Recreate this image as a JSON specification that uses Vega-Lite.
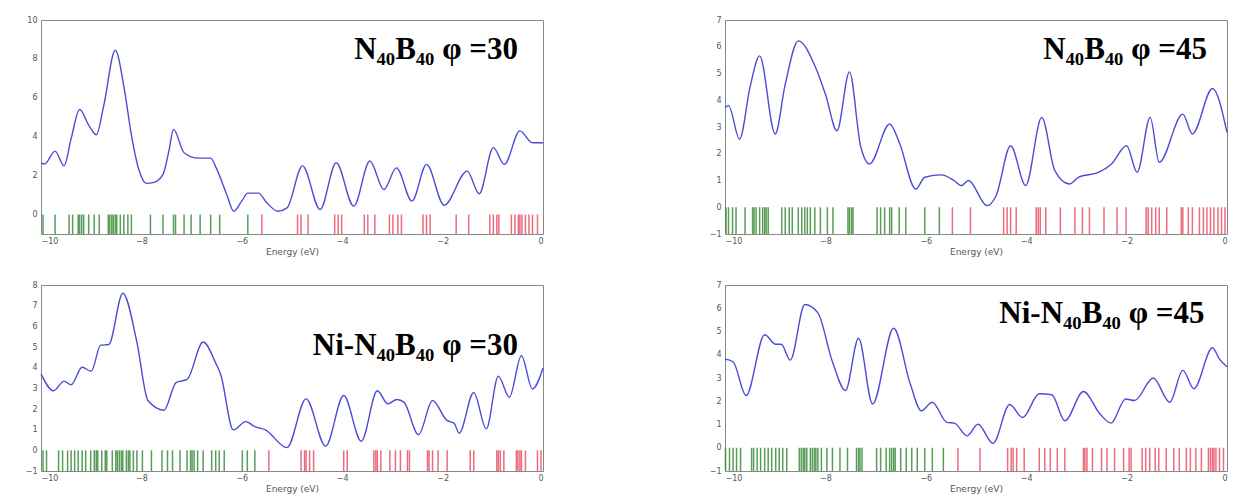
{
  "$schema": "https://vega.github.io/schema/vega-lite/v6.json",
  "background": "white",
  "padding": {"left": 24, "top": 15, "right": 0, "bottom": 0},
  "datasets": {
    "dos": [
      {"panel":"a","E":-10,"v":2.66},{"panel":"a","E":-9.93,"v":2.6},{"panel":"a","E":-9.72,"v":3.26},{"panel":"a","E":-9.54,"v":2.5},{"panel":"a","E":-9.4,"v":3.9},{"panel":"a","E":-9.23,"v":5.4},{"panel":"a","E":-9.05,"v":4.6},{"panel":"a","E":-8.9,"v":4.1},{"panel":"a","E":-8.75,"v":5.6},{"panel":"a","E":-8.52,"v":8.45},{"panel":"a","E":-8.35,"v":6.6},{"panel":"a","E":-8.2,"v":4.1},{"panel":"a","E":-8.05,"v":2.3},{"panel":"a","E":-7.9,"v":1.6},{"panel":"a","E":-7.75,"v":1.65},{"panel":"a","E":-7.57,"v":2.06},{"panel":"a","E":-7.45,"v":3.3},{"panel":"a","E":-7.36,"v":4.38},{"panel":"a","E":-7.15,"v":3.18},{"panel":"a","E":-6.87,"v":2.9},{"panel":"a","E":-6.62,"v":2.9},{"panel":"a","E":-6.51,"v":2.4},{"panel":"a","E":-6.3,"v":1.03},{"panel":"a","E":-6.16,"v":0.17},{"panel":"a","E":-6.0,"v":0.7},{"panel":"a","E":-5.88,"v":1.1},{"panel":"a","E":-5.67,"v":1.1},{"panel":"a","E":-5.5,"v":0.6},{"panel":"a","E":-5.28,"v":0.17},{"panel":"a","E":-5.1,"v":0.34},{"panel":"a","E":-4.79,"v":2.5},{"panel":"a","E":-4.44,"v":0.26},{"panel":"a","E":-4.12,"v":2.66},{"panel":"a","E":-3.77,"v":0.43},{"panel":"a","E":-3.45,"v":2.75},{"panel":"a","E":-3.17,"v":1.29},{"panel":"a","E":-2.92,"v":2.4},{"panel":"a","E":-2.61,"v":0.69},{"panel":"a","E":-2.32,"v":2.58},{"panel":"a","E":-1.97,"v":0.48},{"panel":"a","E":-1.51,"v":2.23},{"panel":"a","E":-1.27,"v":1.07},{"panel":"a","E":-0.99,"v":3.44},{"panel":"a","E":-0.77,"v":2.58},{"panel":"a","E":-0.46,"v":4.3},{"panel":"a","E":-0.21,"v":3.69},{"panel":"a","E":0,"v":3.69},
      {"panel":"b","E":-10,"v":3.73},{"panel":"b","E":-9.93,"v":3.8},{"panel":"b","E":-9.71,"v":2.55},{"panel":"b","E":-9.5,"v":4.5},{"panel":"b","E":-9.31,"v":5.66},{"panel":"b","E":-9.0,"v":2.74},{"panel":"b","E":-8.8,"v":4.6},{"panel":"b","E":-8.54,"v":6.22},{"panel":"b","E":-8.21,"v":5.29},{"panel":"b","E":-7.99,"v":4.17},{"panel":"b","E":-7.77,"v":2.86},{"panel":"b","E":-7.52,"v":5.06},{"panel":"b","E":-7.3,"v":2.3},{"panel":"b","E":-7.12,"v":1.62},{"panel":"b","E":-6.72,"v":3.11},{"panel":"b","E":-6.53,"v":2.43},{"panel":"b","E":-6.2,"v":0.68},{"panel":"b","E":-6.02,"v":1.12},{"panel":"b","E":-5.69,"v":1.21},{"panel":"b","E":-5.44,"v":1.0},{"panel":"b","E":-5.29,"v":0.81},{"panel":"b","E":-5.15,"v":1.0},{"panel":"b","E":-4.78,"v":0.06},{"panel":"b","E":-4.6,"v":0.43},{"panel":"b","E":-4.31,"v":2.3},{"panel":"b","E":-4.01,"v":0.81},{"panel":"b","E":-3.69,"v":3.36},{"panel":"b","E":-3.43,"v":1.37},{"panel":"b","E":-3.14,"v":0.87},{"panel":"b","E":-2.96,"v":1.12},{"panel":"b","E":-2.55,"v":1.31},{"panel":"b","E":-2.3,"v":1.62},{"panel":"b","E":-2.0,"v":2.3},{"panel":"b","E":-1.79,"v":1.31},{"panel":"b","E":-1.53,"v":3.36},{"panel":"b","E":-1.35,"v":1.68},{"panel":"b","E":-0.88,"v":3.48},{"panel":"b","E":-0.69,"v":2.74},{"panel":"b","E":-0.29,"v":4.44},{"panel":"b","E":0,"v":2.8},
      {"panel":"c","E":-10,"v":3.7},{"panel":"c","E":-9.75,"v":2.88},{"panel":"c","E":-9.54,"v":3.35},{"panel":"c","E":-9.4,"v":3.17},{"panel":"c","E":-9.18,"v":4.02},{"panel":"c","E":-9.0,"v":3.83},{"panel":"c","E":-8.81,"v":5.09},{"panel":"c","E":-8.65,"v":5.12},{"panel":"c","E":-8.37,"v":7.6},{"panel":"c","E":-8.09,"v":5.24},{"panel":"c","E":-7.87,"v":2.41},{"panel":"c","E":-7.55,"v":1.94},{"panel":"c","E":-7.31,"v":3.28},{"panel":"c","E":-7.09,"v":3.43},{"panel":"c","E":-6.77,"v":5.24},{"panel":"c","E":-6.52,"v":4.22},{"panel":"c","E":-6.42,"v":3.67},{"panel":"c","E":-6.17,"v":0.99},{"panel":"c","E":-5.92,"v":1.39},{"panel":"c","E":-5.74,"v":1.15},{"panel":"c","E":-5.53,"v":0.99},{"panel":"c","E":-5.1,"v":0.13},{"panel":"c","E":-4.72,"v":2.49},{"panel":"c","E":-4.33,"v":0.2},{"panel":"c","E":-3.97,"v":2.65},{"panel":"c","E":-3.62,"v":0.44},{"panel":"c","E":-3.3,"v":2.88},{"panel":"c","E":-3.09,"v":2.25},{"panel":"c","E":-2.91,"v":2.46},{"panel":"c","E":-2.77,"v":2.33},{"panel":"c","E":-2.48,"v":0.76},{"panel":"c","E":-2.2,"v":2.41},{"panel":"c","E":-1.92,"v":1.46},{"panel":"c","E":-1.77,"v":1.31},{"panel":"c","E":-1.67,"v":0.83},{"panel":"c","E":-1.38,"v":2.8},{"panel":"c","E":-1.13,"v":1.04},{"panel":"c","E":-0.89,"v":3.59},{"panel":"c","E":-0.67,"v":2.57},{"panel":"c","E":-0.43,"v":4.58},{"panel":"c","E":-0.21,"v":2.96},{"panel":"c","E":0,"v":3.98},
      {"panel":"d","E":-10,"v":3.81},{"panel":"d","E":-9.84,"v":3.7},{"panel":"d","E":-9.58,"v":2.25},{"panel":"d","E":-9.21,"v":4.86},{"panel":"d","E":-8.99,"v":4.45},{"panel":"d","E":-8.88,"v":4.45},{"panel":"d","E":-8.7,"v":3.77},{"panel":"d","E":-8.41,"v":6.16},{"panel":"d","E":-8.15,"v":5.8},{"panel":"d","E":-7.86,"v":3.7},{"panel":"d","E":-7.6,"v":2.46},{"panel":"d","E":-7.34,"v":4.71},{"panel":"d","E":-7.06,"v":1.88},{"panel":"d","E":-6.64,"v":5.14},{"panel":"d","E":-6.31,"v":2.75},{"panel":"d","E":-6.09,"v":1.59},{"panel":"d","E":-5.87,"v":1.96},{"panel":"d","E":-5.58,"v":1.09},{"panel":"d","E":-5.43,"v":1.06},{"panel":"d","E":-5.18,"v":0.51},{"panel":"d","E":-4.96,"v":1.01},{"panel":"d","E":-4.66,"v":0.19},{"panel":"d","E":-4.33,"v":1.86},{"panel":"d","E":-4.07,"v":1.3},{"panel":"d","E":-3.74,"v":2.32},{"panel":"d","E":-3.49,"v":2.28},{"panel":"d","E":-3.23,"v":1.16},{"panel":"d","E":-2.86,"v":2.42},{"panel":"d","E":-2.53,"v":1.45},{"panel":"d","E":-2.31,"v":1.06},{"panel":"d","E":-2.02,"v":2.1},{"panel":"d","E":-1.84,"v":2.03},{"panel":"d","E":-1.47,"v":3.0},{"panel":"d","E":-1.14,"v":1.96},{"panel":"d","E":-0.88,"v":3.33},{"panel":"d","E":-0.66,"v":2.54},{"panel":"d","E":-0.29,"v":4.3},{"panel":"d","E":-0.15,"v":3.81},{"panel":"d","E":0,"v":3.48}
    ],
    "levels": [
      {"panel":"a","E":-9.96,"kind":"occ"},{"panel":"a","E":-9.72,"kind":"occ"},{"panel":"a","E":-9.44,"kind":"occ"},{"panel":"a","E":-9.37,"kind":"occ"},{"panel":"a","E":-9.26,"kind":"occ"},{"panel":"a","E":-9.23,"kind":"occ"},{"panel":"a","E":-9.19,"kind":"occ"},{"panel":"a","E":-9.15,"kind":"occ"},{"panel":"a","E":-9.05,"kind":"occ"},{"panel":"a","E":-8.94,"kind":"occ"},{"panel":"a","E":-8.84,"kind":"occ"},{"panel":"a","E":-8.66,"kind":"occ"},{"panel":"a","E":-8.63,"kind":"occ"},{"panel":"a","E":-8.59,"kind":"occ"},{"panel":"a","E":-8.56,"kind":"occ"},{"panel":"a","E":-8.52,"kind":"occ"},{"panel":"a","E":-8.49,"kind":"occ"},{"panel":"a","E":-8.42,"kind":"occ"},{"panel":"a","E":-8.35,"kind":"occ"},{"panel":"a","E":-8.27,"kind":"occ"},{"panel":"a","E":-8.2,"kind":"occ"},{"panel":"a","E":-7.82,"kind":"occ"},{"panel":"a","E":-7.57,"kind":"occ"},{"panel":"a","E":-7.36,"kind":"occ"},{"panel":"a","E":-7.32,"kind":"occ"},{"panel":"a","E":-7.15,"kind":"occ"},{"panel":"a","E":-7.01,"kind":"occ"},{"panel":"a","E":-6.83,"kind":"occ"},{"panel":"a","E":-6.62,"kind":"occ"},{"panel":"a","E":-6.44,"kind":"occ"},{"panel":"a","E":-5.88,"kind":"occ"},
      {"panel":"a","E":-5.6,"kind":"virt"},{"panel":"a","E":-4.89,"kind":"virt"},{"panel":"a","E":-4.82,"kind":"virt"},{"panel":"a","E":-4.68,"kind":"virt"},{"panel":"a","E":-4.15,"kind":"virt"},{"panel":"a","E":-4.08,"kind":"virt"},{"panel":"a","E":-4.01,"kind":"virt"},{"panel":"a","E":-3.56,"kind":"virt"},{"panel":"a","E":-3.49,"kind":"virt"},{"panel":"a","E":-3.35,"kind":"virt"},{"panel":"a","E":-3.06,"kind":"virt"},{"panel":"a","E":-2.99,"kind":"virt"},{"panel":"a","E":-2.89,"kind":"virt"},{"panel":"a","E":-2.82,"kind":"virt"},{"panel":"a","E":-2.39,"kind":"virt"},{"panel":"a","E":-2.32,"kind":"virt"},{"panel":"a","E":-2.25,"kind":"virt"},{"panel":"a","E":-1.73,"kind":"virt"},{"panel":"a","E":-1.48,"kind":"virt"},{"panel":"a","E":-1.06,"kind":"virt"},{"panel":"a","E":-0.99,"kind":"virt"},{"panel":"a","E":-0.92,"kind":"virt"},{"panel":"a","E":-0.88,"kind":"virt"},{"panel":"a","E":-0.63,"kind":"virt"},{"panel":"a","E":-0.56,"kind":"virt"},{"panel":"a","E":-0.49,"kind":"virt"},{"panel":"a","E":-0.46,"kind":"virt"},{"panel":"a","E":-0.42,"kind":"virt"},{"panel":"a","E":-0.35,"kind":"virt"},{"panel":"a","E":-0.28,"kind":"virt"},{"panel":"a","E":-0.21,"kind":"virt"},{"panel":"a","E":-0.11,"kind":"virt"},
      {"panel":"b","E":-9.98,"kind":"occ"},{"panel":"b","E":-9.93,"kind":"occ"},{"panel":"b","E":-9.85,"kind":"occ"},{"panel":"b","E":-9.78,"kind":"occ"},{"panel":"b","E":-9.6,"kind":"occ"},{"panel":"b","E":-9.45,"kind":"occ"},{"panel":"b","E":-9.42,"kind":"occ"},{"panel":"b","E":-9.38,"kind":"occ"},{"panel":"b","E":-9.31,"kind":"occ"},{"panel":"b","E":-9.25,"kind":"occ"},{"panel":"b","E":-9.21,"kind":"occ"},{"panel":"b","E":-9.18,"kind":"occ"},{"panel":"b","E":-9.14,"kind":"occ"},{"panel":"b","E":-8.87,"kind":"occ"},{"panel":"b","E":-8.8,"kind":"occ"},{"panel":"b","E":-8.72,"kind":"occ"},{"panel":"b","E":-8.66,"kind":"occ"},{"panel":"b","E":-8.54,"kind":"occ"},{"panel":"b","E":-8.47,"kind":"occ"},{"panel":"b","E":-8.41,"kind":"occ"},{"panel":"b","E":-8.36,"kind":"occ"},{"panel":"b","E":-8.3,"kind":"occ"},{"panel":"b","E":-8.21,"kind":"occ"},{"panel":"b","E":-8.1,"kind":"occ"},{"panel":"b","E":-7.96,"kind":"occ"},{"panel":"b","E":-7.85,"kind":"occ"},{"panel":"b","E":-7.55,"kind":"occ"},{"panel":"b","E":-7.52,"kind":"occ"},{"panel":"b","E":-7.48,"kind":"occ"},{"panel":"b","E":-7.45,"kind":"occ"},{"panel":"b","E":-6.97,"kind":"occ"},{"panel":"b","E":-6.9,"kind":"occ"},{"panel":"b","E":-6.82,"kind":"occ"},{"panel":"b","E":-6.72,"kind":"occ"},{"panel":"b","E":-6.68,"kind":"occ"},{"panel":"b","E":-6.53,"kind":"occ"},{"panel":"b","E":-6.4,"kind":"occ"},{"panel":"b","E":-6.02,"kind":"occ"},{"panel":"b","E":-5.73,"kind":"occ"},
      {"panel":"b","E":-5.47,"kind":"virt"},{"panel":"b","E":-5.11,"kind":"virt"},{"panel":"b","E":-4.45,"kind":"virt"},{"panel":"b","E":-4.38,"kind":"virt"},{"panel":"b","E":-4.31,"kind":"virt"},{"panel":"b","E":-4.2,"kind":"virt"},{"panel":"b","E":-3.8,"kind":"virt"},{"panel":"b","E":-3.76,"kind":"virt"},{"panel":"b","E":-3.72,"kind":"virt"},{"panel":"b","E":-3.61,"kind":"virt"},{"panel":"b","E":-3.32,"kind":"virt"},{"panel":"b","E":-3.03,"kind":"virt"},{"panel":"b","E":-2.88,"kind":"virt"},{"panel":"b","E":-2.74,"kind":"virt"},{"panel":"b","E":-2.45,"kind":"virt"},{"panel":"b","E":-2.19,"kind":"virt"},{"panel":"b","E":-2.01,"kind":"virt"},{"panel":"b","E":-1.61,"kind":"virt"},{"panel":"b","E":-1.57,"kind":"virt"},{"panel":"b","E":-1.5,"kind":"virt"},{"panel":"b","E":-1.42,"kind":"virt"},{"panel":"b","E":-1.35,"kind":"virt"},{"panel":"b","E":-1.2,"kind":"virt"},{"panel":"b","E":-0.91,"kind":"virt"},{"panel":"b","E":-0.88,"kind":"virt"},{"panel":"b","E":-0.77,"kind":"virt"},{"panel":"b","E":-0.69,"kind":"virt"},{"panel":"b","E":-0.55,"kind":"virt"},{"panel":"b","E":-0.47,"kind":"virt"},{"panel":"b","E":-0.4,"kind":"virt"},{"panel":"b","E":-0.33,"kind":"virt"},{"panel":"b","E":-0.26,"kind":"virt"},{"panel":"b","E":-0.18,"kind":"virt"},{"panel":"b","E":-0.11,"kind":"virt"},{"panel":"b","E":-0.04,"kind":"virt"},
      {"panel":"c","E":-9.96,"kind":"occ"},{"panel":"c","E":-9.89,"kind":"occ"},{"panel":"c","E":-9.65,"kind":"occ"},{"panel":"c","E":-9.57,"kind":"occ"},{"panel":"c","E":-9.47,"kind":"occ"},{"panel":"c","E":-9.4,"kind":"occ"},{"panel":"c","E":-9.33,"kind":"occ"},{"panel":"c","E":-9.26,"kind":"occ"},{"panel":"c","E":-9.18,"kind":"occ"},{"panel":"c","E":-9.11,"kind":"occ"},{"panel":"c","E":-9.01,"kind":"occ"},{"panel":"c","E":-8.94,"kind":"occ"},{"panel":"c","E":-8.9,"kind":"occ"},{"panel":"c","E":-8.87,"kind":"occ"},{"panel":"c","E":-8.79,"kind":"occ"},{"panel":"c","E":-8.72,"kind":"occ"},{"panel":"c","E":-8.69,"kind":"occ"},{"panel":"c","E":-8.58,"kind":"occ"},{"panel":"c","E":-8.51,"kind":"occ"},{"panel":"c","E":-8.48,"kind":"occ"},{"panel":"c","E":-8.44,"kind":"occ"},{"panel":"c","E":-8.4,"kind":"occ"},{"panel":"c","E":-8.37,"kind":"occ"},{"panel":"c","E":-8.3,"kind":"occ"},{"panel":"c","E":-8.26,"kind":"occ"},{"panel":"c","E":-8.23,"kind":"occ"},{"panel":"c","E":-8.16,"kind":"occ"},{"panel":"c","E":-8.09,"kind":"occ"},{"panel":"c","E":-7.98,"kind":"occ"},{"panel":"c","E":-7.8,"kind":"occ"},{"panel":"c","E":-7.59,"kind":"occ"},{"panel":"c","E":-7.48,"kind":"occ"},{"panel":"c","E":-7.38,"kind":"occ"},{"panel":"c","E":-7.23,"kind":"occ"},{"panel":"c","E":-7.09,"kind":"occ"},{"panel":"c","E":-7.02,"kind":"occ"},{"panel":"c","E":-6.99,"kind":"occ"},{"panel":"c","E":-6.95,"kind":"occ"},{"panel":"c","E":-6.88,"kind":"occ"},{"panel":"c","E":-6.77,"kind":"occ"},{"panel":"c","E":-6.6,"kind":"occ"},{"panel":"c","E":-6.52,"kind":"occ"},{"panel":"c","E":-6.45,"kind":"occ"},{"panel":"c","E":-6.35,"kind":"occ"},{"panel":"c","E":-5.99,"kind":"occ"},{"panel":"c","E":-5.89,"kind":"occ"},{"panel":"c","E":-5.74,"kind":"occ"},
      {"panel":"c","E":-5.46,"kind":"virt"},{"panel":"c","E":-4.82,"kind":"virt"},{"panel":"c","E":-4.75,"kind":"virt"},{"panel":"c","E":-4.72,"kind":"virt"},{"panel":"c","E":-4.65,"kind":"virt"},{"panel":"c","E":-4.57,"kind":"virt"},{"panel":"c","E":-3.97,"kind":"virt"},{"panel":"c","E":-3.9,"kind":"virt"},{"panel":"c","E":-3.37,"kind":"virt"},{"panel":"c","E":-3.33,"kind":"virt"},{"panel":"c","E":-3.3,"kind":"virt"},{"panel":"c","E":-3.23,"kind":"virt"},{"panel":"c","E":-3.05,"kind":"virt"},{"panel":"c","E":-2.94,"kind":"virt"},{"panel":"c","E":-2.84,"kind":"virt"},{"panel":"c","E":-2.7,"kind":"virt"},{"panel":"c","E":-2.66,"kind":"virt"},{"panel":"c","E":-2.3,"kind":"virt"},{"panel":"c","E":-2.27,"kind":"virt"},{"panel":"c","E":-2.2,"kind":"virt"},{"panel":"c","E":-2.09,"kind":"virt"},{"panel":"c","E":-1.91,"kind":"virt"},{"panel":"c","E":-1.45,"kind":"virt"},{"panel":"c","E":-1.38,"kind":"virt"},{"panel":"c","E":-0.92,"kind":"virt"},{"panel":"c","E":-0.89,"kind":"virt"},{"panel":"c","E":-0.85,"kind":"virt"},{"panel":"c","E":-0.78,"kind":"virt"},{"panel":"c","E":-0.53,"kind":"virt"},{"panel":"c","E":-0.5,"kind":"virt"},{"panel":"c","E":-0.46,"kind":"virt"},{"panel":"c","E":-0.43,"kind":"virt"},{"panel":"c","E":-0.35,"kind":"virt"},{"panel":"c","E":-0.11,"kind":"virt"},{"panel":"c","E":-0.04,"kind":"virt"},
      {"panel":"d","E":-9.99,"kind":"occ"},{"panel":"d","E":-9.91,"kind":"occ"},{"panel":"d","E":-9.84,"kind":"occ"},{"panel":"d","E":-9.77,"kind":"occ"},{"panel":"d","E":-9.69,"kind":"occ"},{"panel":"d","E":-9.47,"kind":"occ"},{"panel":"d","E":-9.43,"kind":"occ"},{"panel":"d","E":-9.36,"kind":"occ"},{"panel":"d","E":-9.29,"kind":"occ"},{"panel":"d","E":-9.21,"kind":"occ"},{"panel":"d","E":-9.14,"kind":"occ"},{"panel":"d","E":-9.07,"kind":"occ"},{"panel":"d","E":-8.99,"kind":"occ"},{"panel":"d","E":-8.92,"kind":"occ"},{"panel":"d","E":-8.85,"kind":"occ"},{"panel":"d","E":-8.77,"kind":"occ"},{"panel":"d","E":-8.52,"kind":"occ"},{"panel":"d","E":-8.48,"kind":"occ"},{"panel":"d","E":-8.44,"kind":"occ"},{"panel":"d","E":-8.41,"kind":"occ"},{"panel":"d","E":-8.37,"kind":"occ"},{"panel":"d","E":-8.3,"kind":"occ"},{"panel":"d","E":-8.26,"kind":"occ"},{"panel":"d","E":-8.22,"kind":"occ"},{"panel":"d","E":-8.19,"kind":"occ"},{"panel":"d","E":-8.15,"kind":"occ"},{"panel":"d","E":-8.08,"kind":"occ"},{"panel":"d","E":-7.97,"kind":"occ"},{"panel":"d","E":-7.86,"kind":"occ"},{"panel":"d","E":-7.71,"kind":"occ"},{"panel":"d","E":-7.56,"kind":"occ"},{"panel":"d","E":-7.38,"kind":"occ"},{"panel":"d","E":-7.34,"kind":"occ"},{"panel":"d","E":-7.31,"kind":"occ"},{"panel":"d","E":-7.27,"kind":"occ"},{"panel":"d","E":-6.98,"kind":"occ"},{"panel":"d","E":-6.9,"kind":"occ"},{"panel":"d","E":-6.79,"kind":"occ"},{"panel":"d","E":-6.72,"kind":"occ"},{"panel":"d","E":-6.68,"kind":"occ"},{"panel":"d","E":-6.64,"kind":"occ"},{"panel":"d","E":-6.61,"kind":"occ"},{"panel":"d","E":-6.5,"kind":"occ"},{"panel":"d","E":-6.39,"kind":"occ"},{"panel":"d","E":-6.28,"kind":"occ"},{"panel":"d","E":-6.17,"kind":"occ"},{"panel":"d","E":-6.02,"kind":"occ"},{"panel":"d","E":-5.87,"kind":"occ"},{"panel":"d","E":-5.65,"kind":"occ"},
      {"panel":"d","E":-5.36,"kind":"virt"},{"panel":"d","E":-4.92,"kind":"virt"},{"panel":"d","E":-4.37,"kind":"virt"},{"panel":"d","E":-4.3,"kind":"virt"},{"panel":"d","E":-4.26,"kind":"virt"},{"panel":"d","E":-4.19,"kind":"virt"},{"panel":"d","E":-4.04,"kind":"virt"},{"panel":"d","E":-3.74,"kind":"virt"},{"panel":"d","E":-3.63,"kind":"virt"},{"panel":"d","E":-3.52,"kind":"virt"},{"panel":"d","E":-3.38,"kind":"virt"},{"panel":"d","E":-3.23,"kind":"virt"},{"panel":"d","E":-2.86,"kind":"virt"},{"panel":"d","E":-2.83,"kind":"virt"},{"panel":"d","E":-2.79,"kind":"virt"},{"panel":"d","E":-2.68,"kind":"virt"},{"panel":"d","E":-2.5,"kind":"virt"},{"panel":"d","E":-2.39,"kind":"virt"},{"panel":"d","E":-2.24,"kind":"virt"},{"panel":"d","E":-2.06,"kind":"virt"},{"panel":"d","E":-1.95,"kind":"virt"},{"panel":"d","E":-1.91,"kind":"virt"},{"panel":"d","E":-1.69,"kind":"virt"},{"panel":"d","E":-1.62,"kind":"virt"},{"panel":"d","E":-1.54,"kind":"virt"},{"panel":"d","E":-1.43,"kind":"virt"},{"panel":"d","E":-1.36,"kind":"virt"},{"panel":"d","E":-1.21,"kind":"virt"},{"panel":"d","E":-1.06,"kind":"virt"},{"panel":"d","E":-0.95,"kind":"virt"},{"panel":"d","E":-0.81,"kind":"virt"},{"panel":"d","E":-0.73,"kind":"virt"},{"panel":"d","E":-0.62,"kind":"virt"},{"panel":"d","E":-0.51,"kind":"virt"},{"panel":"d","E":-0.37,"kind":"virt"},{"panel":"d","E":-0.33,"kind":"virt"},{"panel":"d","E":-0.29,"kind":"virt"},{"panel":"d","E":-0.26,"kind":"virt"},{"panel":"d","E":-0.22,"kind":"virt"},{"panel":"d","E":-0.15,"kind":"virt"},{"panel":"d","E":-0.07,"kind":"virt"}
    ],
    "labels": [
      {"panel":"a","label":"N₄₀B₄₀ φ =30"},
      {"panel":"b","label":"N₄₀B₄₀ φ =45"},
      {"panel":"c","label":"Ni-N₄₀B₄₀ φ =30"},
      {"panel":"d","label":"Ni-N₄₀B₄₀ φ =45"}
    ]
  },
  "columns": 2,
  "spacing": {"row": 51, "column": 182},
  "bounds": "flush",
  "concat": [
    {
      "width": 502, "height": 214,
      "layer": [
        {"data": {"name": "levels"}, "transform": [{"filter": "datum.panel === 'a'"}],
         "mark": {"type": "rule", "strokeWidth": 1.5, "opacity": 0.8},
         "encoding": {
           "x": {"field": "E", "type": "quantitative", "scale": {"domain": [-10, 0], "nice": false}, "axis": {"values": [-10,-8,-6,-4,-2,0], "tickCount": 20, "format": "d", "title": "Energy (eV)"}},
           "y": {"datum": 0, "type": "quantitative", "scale": {"domain": [-1, 10], "nice": false, "zero": false}, "axis": {"values": [0,2,4,6,8,10], "tickCount": 20, "format": "d", "title": null}},
           "y2": {"datum": -1},
           "color": {"field": "kind", "type": "nominal", "scale": {"domain": ["occ","virt"], "range": ["#2f852f","#e5475e"]}, "legend": null}
         }},
        {"data": {"name": "dos"}, "transform": [{"filter": "datum.panel === 'a'"}],
         "mark": {"type": "line", "interpolate": "monotone", "color": "#4c4cd6", "strokeWidth": 1.4},
         "encoding": {"x": {"field": "E", "type": "quantitative"}, "y": {"field": "v", "type": "quantitative"}}},
        {"data": {"name": "labels"}, "transform": [{"filter": "datum.panel === 'a'"}],
         "mark": {"type": "text", "font": "Liberation Serif", "fontWeight": "bold", "fontSize": 31, "align": "right", "baseline": "alphabetic", "color": "#000"},
         "encoding": {"x": {"datum": -0.5}, "y": {"datum": 8.0}, "text": {"field": "label"}}}
      ]
    },
    {
      "width": 502, "height": 214,
      "layer": [
        {"data": {"name": "levels"}, "transform": [{"filter": "datum.panel === 'b'"}],
         "mark": {"type": "rule", "strokeWidth": 1.5, "opacity": 0.8},
         "encoding": {
           "x": {"field": "E", "type": "quantitative", "scale": {"domain": [-10, 0], "nice": false}, "axis": {"values": [-10,-8,-6,-4,-2,0], "tickCount": 20, "format": "d", "title": "Energy (eV)"}},
           "y": {"datum": 0, "type": "quantitative", "scale": {"domain": [-1, 7], "nice": false, "zero": false}, "axis": {"values": [-1,0,1,2,3,4,5,6,7], "tickCount": 20, "format": "d", "title": null}},
           "y2": {"datum": -1},
           "color": {"field": "kind", "type": "nominal", "scale": {"domain": ["occ","virt"], "range": ["#2f852f","#e5475e"]}, "legend": null}
         }},
        {"data": {"name": "dos"}, "transform": [{"filter": "datum.panel === 'b'"}],
         "mark": {"type": "line", "interpolate": "monotone", "color": "#4c4cd6", "strokeWidth": 1.4},
         "encoding": {"x": {"field": "E", "type": "quantitative"}, "y": {"field": "v", "type": "quantitative"}}},
        {"data": {"name": "labels"}, "transform": [{"filter": "datum.panel === 'b'"}],
         "mark": {"type": "text", "font": "Liberation Serif", "fontWeight": "bold", "fontSize": 31, "align": "right", "baseline": "alphabetic", "color": "#000"},
         "encoding": {"x": {"datum": -0.4}, "y": {"datum": 5.55}, "text": {"field": "label"}}}
      ]
    },
    {
      "width": 502, "height": 186,
      "layer": [
        {"data": {"name": "levels"}, "transform": [{"filter": "datum.panel === 'c'"}],
         "mark": {"type": "rule", "strokeWidth": 1.5, "opacity": 0.8},
         "encoding": {
           "x": {"field": "E", "type": "quantitative", "scale": {"domain": [-10, 0], "nice": false}, "axis": {"values": [-10,-8,-6,-4,-2,0], "tickCount": 20, "format": "d", "title": "Energy (eV)"}},
           "y": {"datum": 0, "type": "quantitative", "scale": {"domain": [-1, 8], "nice": false, "zero": false}, "axis": {"values": [-1,0,1,2,3,4,5,6,7,8], "tickCount": 20, "format": "d", "title": null}},
           "y2": {"datum": -1},
           "color": {"field": "kind", "type": "nominal", "scale": {"domain": ["occ","virt"], "range": ["#2f852f","#e5475e"]}, "legend": null}
         }},
        {"data": {"name": "dos"}, "transform": [{"filter": "datum.panel === 'c'"}],
         "mark": {"type": "line", "interpolate": "monotone", "color": "#4c4cd6", "strokeWidth": 1.4},
         "encoding": {"x": {"field": "E", "type": "quantitative"}, "y": {"field": "v", "type": "quantitative"}}},
        {"data": {"name": "labels"}, "transform": [{"filter": "datum.panel === 'c'"}],
         "mark": {"type": "text", "font": "Liberation Serif", "fontWeight": "bold", "fontSize": 31, "align": "right", "baseline": "alphabetic", "color": "#000"},
         "encoding": {"x": {"datum": -0.5}, "y": {"datum": 4.6}, "text": {"field": "label"}}}
      ]
    },
    {
      "width": 502, "height": 186,
      "layer": [
        {"data": {"name": "levels"}, "transform": [{"filter": "datum.panel === 'd'"}],
         "mark": {"type": "rule", "strokeWidth": 1.5, "opacity": 0.8},
         "encoding": {
           "x": {"field": "E", "type": "quantitative", "scale": {"domain": [-10, 0], "nice": false}, "axis": {"values": [-10,-8,-6,-4,-2,0], "tickCount": 20, "format": "d", "title": "Energy (eV)"}},
           "y": {"datum": 0, "type": "quantitative", "scale": {"domain": [-1, 7], "nice": false, "zero": false}, "axis": {"values": [-1,0,1,2,3,4,5,6,7], "tickCount": 20, "format": "d", "title": null}},
           "y2": {"datum": -1},
           "color": {"field": "kind", "type": "nominal", "scale": {"domain": ["occ","virt"], "range": ["#2f852f","#e5475e"]}, "legend": null}
         }},
        {"data": {"name": "dos"}, "transform": [{"filter": "datum.panel === 'd'"}],
         "mark": {"type": "line", "interpolate": "monotone", "color": "#4c4cd6", "strokeWidth": 1.4},
         "encoding": {"x": {"field": "E", "type": "quantitative"}, "y": {"field": "v", "type": "quantitative"}}},
        {"data": {"name": "labels"}, "transform": [{"filter": "datum.panel === 'd'"}],
         "mark": {"type": "text", "font": "Liberation Serif", "fontWeight": "bold", "fontSize": 31, "align": "right", "baseline": "alphabetic", "color": "#000"},
         "encoding": {"x": {"datum": -0.45}, "y": {"datum": 5.35}, "text": {"field": "label"}}}
      ]
    }
  ],
  "config": {
    "view": {"stroke": "#888", "strokeWidth": 1},
    "axis": {"domain": false, "grid": false, "ticks": false, "labelOverlap": false, "labelFont": "DejaVu Sans", "labelFontSize": 8, "labelColor": "#555", "titleFont": "DejaVu Sans", "titleFontSize": 9, "titleFontWeight": "normal", "titleColor": "#555"},
    "axisX": {"labelPadding": 3, "titlePadding": 2},
    "axisY": {"labelPadding": 4}
  }
}
